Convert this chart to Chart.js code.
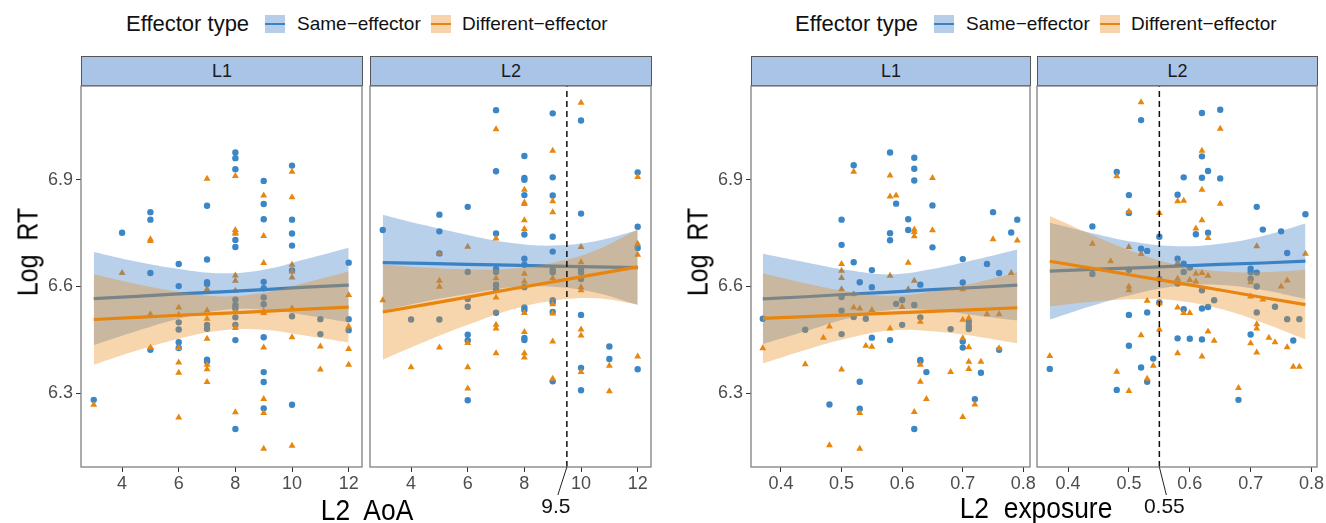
<!DOCTYPE html>
<html>
<head>
<meta charset="utf-8">
<script src="https://cdn.jsdelivr.net/npm/chart.js@4.4.1/dist/chart.umd.min.js"></script>
<style>
body { margin: 0; background: #fff; width: 1326px; height: 523px; overflow: hidden; position: relative;
       font-family: "Liberation Sans", Arial, sans-serif; }
canvas { position: absolute; }
.strip { position: absolute; top: 56px; height: 30px; background: #a9c4e6; border: 1px solid #555;
         box-sizing: border-box; text-align: center; line-height: 28px; font-size: 18px; color: #1a1a1a; }
.lg { position: absolute; top: 10px; height: 28px; line-height: 28px; white-space: pre; color: #111; }
.lg-title { font-size: 22px; }
.lg-lab { font-size: 19px; }
.key { position: absolute; top: 15px; width: 20px; height: 18px; }
.key i { position: absolute; left: 0; right: 0; top: 8px; height: 2px; }
.ytitle { position: absolute; font-size: 29px; white-space: pre; color: #000;
          transform: translate(-50%, -50%) rotate(-90deg) scaleX(0.86); }
.xtitle { position: absolute; font-size: 30px; white-space: pre; color: #000;
          transform: translate(-50%, -50%) scaleX(0.88); }
</style>
</head>
<body>

<!-- legends -->
<div class="lg lg-title" style="left:126px">Effector type</div>
<div class="key" style="left:265px;background:#b6cee9"><i style="background:#3b82c4"></i></div>
<div class="lg lg-lab" style="left:297px">Same−effector</div>
<div class="key" style="left:431px;background:#f6d3ab"><i style="background:#e8850e"></i></div>
<div class="lg lg-lab" style="left:462px">Different−effector</div>

<div class="lg lg-title" style="left:795px">Effector type</div>
<div class="key" style="left:934px;background:#b6cee9"><i style="background:#3b82c4"></i></div>
<div class="lg lg-lab" style="left:966px">Same−effector</div>
<div class="key" style="left:1100px;background:#f6d3ab"><i style="background:#e8850e"></i></div>
<div class="lg lg-lab" style="left:1131px">Different−effector</div>

<!-- facet strips -->
<div class="strip" style="left:81px;width:282px">L1</div>
<div class="strip" style="left:370px;width:282px">L2</div>
<div class="strip" style="left:751px;width:280px">L1</div>
<div class="strip" style="left:1037px;width:281px">L2</div>

<canvas id="aoaL1" width="387" height="443" style="left:0px;top:80px"></canvas>
<canvas id="aoaL2" width="311" height="443" style="left:365px;top:80px"></canvas>
<canvas id="expL1" width="385" height="443" style="left:670px;top:80px"></canvas>
<canvas id="expL2" width="294" height="443" style="left:1032px;top:80px"></canvas>

<div class="ytitle" style="left:28px;top:252px">Log  RT</div>
<div class="ytitle" style="left:698px;top:252px">Log  RT</div>
<div class="xtitle" style="left:367px;top:510px">L2  AoA</div>
<div class="xtitle" style="left:1036px;top:508px">L2  exposure</div>

<script>
// ---- axes ----
const yMin = 6.092, yMax = 7.164;
const yTicks = [6.3, 6.6, 6.9];
const aoaTicks = [4, 6, 8, 10, 12];
const expTicks = [0.4, 0.5, 0.6, 0.7, 0.8];
const aoaCut = 9.5;
const expCut = 0.55;

// ---- L2 AoA, L1 trials ----
const aoaL1SameX = [3, 4, 5, 5, 5, 5, 6, 6, 6, 6, 6, 6, 7, 7, 7, 7, 7, 7, 7, 7,
    8, 8, 8, 8, 8, 8, 8, 8, 8, 8, 8, 8, 9, 9, 9, 9, 9, 9, 9, 9, 9, 9, 9,
    10, 10, 10, 10, 10, 10, 10, 11, 11, 12, 12, 12];
const aoaL1SameY = [6.281, 6.751, 6.809, 6.788, 6.638, 6.422, 6.663, 6.601, 6.499, 6.479, 6.443, 6.427,
    6.827, 6.676, 6.612, 6.607, 6.492, 6.481, 6.394, 6.389,
    6.977, 6.961, 6.930, 6.731, 6.711, 6.563, 6.548, 6.539, 6.513, 6.492, 6.449, 6.199,
    6.897, 6.832, 6.789, 6.613, 6.595, 6.569, 6.550, 6.457, 6.359, 6.331, 6.257,
    6.940, 6.788, 6.749, 6.715, 6.645, 6.516, 6.267, 6.508, 6.466, 6.667, 6.508, 6.477];
const aoaL1DiffX = [3, 4, 5, 5, 5, 5, 6, 6, 6, 6, 6, 6, 7, 7, 7, 7, 7, 7, 7, 7,
    8, 8, 8, 8, 8, 8, 8, 8, 8, 8, 9, 9, 9, 9, 9, 9, 9, 9, 9,
    10, 10, 10, 10, 10, 10, 10, 10, 11, 11, 12, 12, 12, 12];
const aoaL1DiffY = [6.267, 6.638, 6.733, 6.728, 6.522, 6.428, 6.541, 6.520, 6.427, 6.386, 6.357, 6.231,
    6.903, 6.592, 6.532, 6.509, 6.453, 6.380, 6.367, 6.331,
    6.911, 6.759, 6.752, 6.748, 6.631, 6.616, 6.588, 6.528, 6.483, 6.246,
    6.856, 6.742, 6.666, 6.530, 6.525, 6.428, 6.283, 6.244, 6.143,
    6.923, 6.851, 6.661, 6.642, 6.625, 6.539, 6.457, 6.152, 6.431, 6.366, 6.576, 6.487, 6.424, 6.380];

// ---- L2 AoA, L2 trials ----
const aoaL2SameX = [3, 4, 5, 5, 5, 5, 6, 6, 6, 6, 6, 6, 6, 7, 7, 7, 7, 7, 7, 7, 7,
    8, 8, 8, 8, 8, 8, 8, 8, 8, 8, 8, 8, 9, 9, 9, 9, 9, 9, 9, 9, 9, 9, 9,
    10, 10, 10, 10, 10, 10, 10, 10, 11, 11, 12, 12, 12, 12];
const aoaL2SameY = [6.759, 6.507, 6.802, 6.755, 6.693, 6.507, 6.824, 6.641, 6.565, 6.543, 6.464, 6.448, 6.280,
    7.096, 6.924, 6.749, 6.649, 6.641, 6.605, 6.592, 6.526,
    6.967, 6.905, 6.900, 6.857, 6.746, 6.678, 6.661, 6.598, 6.541, 6.534, 6.455, 6.449,
    7.087, 6.907, 6.856, 6.740, 6.698, 6.647, 6.640, 6.561, 6.555, 6.528, 6.333,
    7.067, 6.805, 6.647, 6.639, 6.621, 6.520, 6.371, 6.308, 6.431, 6.396, 6.921, 6.768, 6.708, 6.367];
const aoaL2DiffX = [3, 4, 5, 5, 5, 5, 6, 6, 6, 6, 7, 7, 7, 7, 7, 7, 7,
    8, 8, 8, 8, 8, 8, 8, 8, 8, 8, 8, 9, 9, 9, 9, 9, 9, 9, 9,
    10, 10, 10, 10, 10, 10, 10, 10, 11, 11, 12, 12, 12, 12];
const aoaL2DiffY = [6.561, 6.373, 6.693, 6.616, 6.599, 6.428, 6.712, 6.441, 6.373, 6.313,
    7.042, 6.735, 6.623, 6.569, 6.492, 6.482, 6.412,
    6.872, 6.836, 6.832, 6.786, 6.762, 6.636, 6.614, 6.525, 6.472, 6.412, 6.400,
    6.982, 6.840, 6.809, 6.623, 6.550, 6.524, 6.445, 6.340,
    7.117, 6.711, 6.668, 6.598, 6.589, 6.479, 6.462, 6.359, 6.377, 6.305, 6.908, 6.720, 6.689, 6.403];

// ---- L2 exposure, L1 trials ----
const expL1SameX = [0.37, 0.44, 0.48, 0.50, 0.50, 0.50, 0.50, 0.50, 0.52, 0.52, 0.52, 0.53, 0.53, 0.53,
    0.54, 0.55, 0.55, 0.55, 0.58, 0.58, 0.58, 0.58, 0.59, 0.59, 0.60, 0.60, 0.61, 0.61,
    0.62, 0.62, 0.62, 0.62, 0.62, 0.63, 0.63, 0.63, 0.63, 0.64, 0.65, 0.65, 0.68,
    0.70, 0.70, 0.70, 0.70, 0.71, 0.71, 0.71, 0.72, 0.73, 0.74, 0.75, 0.76, 0.76, 0.78, 0.79];
const expL1SameY = [6.509, 6.478, 6.268, 6.788, 6.717, 6.570, 6.532, 6.466, 6.941, 6.668, 6.514, 6.612, 6.332, 6.256,
    6.509, 6.646, 6.598, 6.456, 6.977, 6.750, 6.730, 6.449, 6.833, 6.551, 6.562, 6.492, 6.789, 6.759,
    6.962, 6.931, 6.898, 6.548, 6.199, 6.605, 6.513, 6.393, 6.390, 6.359, 6.828, 6.710, 6.480,
    6.677, 6.611, 6.445, 6.428, 6.501, 6.489, 6.480, 6.283, 6.357, 6.663, 6.809, 6.638, 6.422, 6.752, 6.788];
const expL1DiffX = [0.37, 0.44, 0.47, 0.48, 0.48, 0.50, 0.50, 0.50, 0.50, 0.50, 0.52, 0.52, 0.52,
    0.53, 0.53, 0.53, 0.54, 0.55, 0.55, 0.58, 0.58, 0.58, 0.58, 0.59, 0.60, 0.61, 0.61,
    0.62, 0.62, 0.62, 0.62, 0.62, 0.63, 0.63, 0.63, 0.64, 0.65, 0.65, 0.68,
    0.70, 0.70, 0.70, 0.70, 0.71, 0.71, 0.71, 0.71, 0.72, 0.73, 0.74, 0.75, 0.76, 0.76, 0.78, 0.79];
const expL1DiffY = [6.426, 6.381, 6.456, 6.487, 6.153, 6.663, 6.644, 6.624, 6.592, 6.366, 6.923, 6.578, 6.541,
    6.538, 6.244, 6.143, 6.433, 6.534, 6.430, 6.912, 6.853, 6.630, 6.482, 6.856, 6.542, 6.667, 6.592,
    6.760, 6.753, 6.741, 6.616, 6.247, 6.501, 6.380, 6.332, 6.283, 6.905, 6.758, 6.359,
    6.592, 6.506, 6.454, 6.233, 6.511, 6.429, 6.388, 6.368, 6.268, 6.388, 6.522, 6.733, 6.522, 6.426, 6.638, 6.729];

// ---- L2 exposure, L2 trials ----
const expL2SameX = [0.37, 0.44, 0.44, 0.48, 0.48, 0.50, 0.50, 0.50, 0.50, 0.50, 0.52, 0.52, 0.52,
    0.53, 0.53, 0.53, 0.54, 0.55, 0.55, 0.55, 0.58, 0.58, 0.58, 0.58, 0.59, 0.59, 0.59, 0.59,
    0.60, 0.60, 0.61, 0.62, 0.62, 0.62, 0.62, 0.62, 0.62, 0.63, 0.63, 0.63, 0.64, 0.65, 0.65, 0.68,
    0.70, 0.70, 0.70, 0.70, 0.71, 0.71, 0.71, 0.71, 0.72, 0.74, 0.75, 0.76, 0.76, 0.77, 0.78, 0.79];
const expL2SameY = [6.368, 6.769, 6.635, 6.922, 6.309, 6.857, 6.807, 6.647, 6.520, 6.433, 7.068, 6.706, 6.372,
    6.700, 6.527, 6.332, 6.397, 6.740, 6.621, 6.555, 6.858, 6.678, 6.608, 6.454, 6.907, 6.664, 6.641, 6.536,
    6.653, 6.453, 6.747, 7.088, 6.966, 6.906, 6.589, 6.538, 6.451, 6.925, 6.751, 6.542, 6.561, 7.097, 6.904, 6.281,
    6.650, 6.640, 6.622, 6.465, 6.824, 6.639, 6.600, 6.527, 6.760, 6.543, 6.755, 6.694, 6.508, 6.448, 6.508, 6.803];
const expL2DiffX = [0.37, 0.44, 0.47, 0.48, 0.48, 0.50, 0.50, 0.50, 0.50, 0.50, 0.52, 0.52, 0.52,
    0.53, 0.53, 0.54, 0.55, 0.55, 0.55, 0.58, 0.58, 0.58, 0.58, 0.58, 0.59, 0.59, 0.60, 0.60,
    0.61, 0.61, 0.61, 0.62, 0.62, 0.62, 0.62, 0.62, 0.63, 0.63, 0.63, 0.64, 0.65, 0.65, 0.68,
    0.70, 0.70, 0.70, 0.71, 0.71, 0.71, 0.71, 0.72, 0.73, 0.74, 0.75, 0.76, 0.76, 0.77, 0.78, 0.79];
const expL2DiffY = [6.404, 6.720, 6.671, 6.910, 6.360, 6.811, 6.711, 6.600, 6.589, 6.306, 7.118, 6.691, 6.463,
    6.560, 6.340, 6.377, 6.807, 6.553, 6.479, 6.840, 6.666, 6.622, 6.541, 6.412, 6.841, 6.525, 6.618, 6.525,
    6.763, 6.636, 6.614, 6.982, 6.872, 6.786, 6.638, 6.403, 6.736, 6.630, 6.473, 6.447, 7.044, 6.833, 6.314,
    6.612, 6.572, 6.440, 6.713, 6.494, 6.482, 6.414, 6.563, 6.456, 6.443, 6.600, 6.617, 6.429, 6.374, 6.374, 6.692];

// ---- linear fits with 95% bands ----
const aoaBandX = [3, 4.5, 6, 7.5, 9, 10.5, 12];
const aoaL1SameFit = [6.566, 6.572, 6.579, 6.585, 6.591, 6.598, 6.604];
const aoaL1SameHi  = [6.697, 6.670, 6.649, 6.637, 6.647, 6.677, 6.709];
const aoaL1SameLo  = [6.435, 6.474, 6.509, 6.533, 6.535, 6.519, 6.499];
const aoaL1DiffFit = [6.507, 6.513, 6.519, 6.524, 6.530, 6.536, 6.542];
const aoaL1DiffHi  = [6.634, 6.607, 6.585, 6.572, 6.582, 6.611, 6.642];
const aoaL1DiffLo  = [6.380, 6.419, 6.453, 6.476, 6.478, 6.461, 6.442];

const aoaL2SameFit = [6.667, 6.665, 6.662, 6.660, 6.657, 6.655, 6.653];
const aoaL2SameHi  = [6.802, 6.772, 6.745, 6.723, 6.715, 6.727, 6.758];
const aoaL2SameLo  = [6.532, 6.558, 6.579, 6.597, 6.599, 6.583, 6.548];
const aoaL2DiffFit = [6.528, 6.549, 6.570, 6.592, 6.613, 6.634, 6.655];
const aoaL2DiffHi  = [6.662, 6.653, 6.648, 6.650, 6.666, 6.701, 6.760];
const aoaL2DiffLo  = [6.394, 6.445, 6.492, 6.534, 6.560, 6.567, 6.550];

const expBandX = [0.37, 0.44, 0.51, 0.58, 0.65, 0.72, 0.79];
const expL1SameFit = [6.565, 6.571, 6.578, 6.584, 6.591, 6.597, 6.604];
const expL1SameHi  = [6.692, 6.668, 6.646, 6.634, 6.649, 6.675, 6.704];
const expL1SameLo  = [6.438, 6.474, 6.510, 6.534, 6.533, 6.519, 6.504];
const expL1DiffFit = [6.510, 6.515, 6.520, 6.525, 6.530, 6.535, 6.540];
const expL1DiffHi  = [6.637, 6.609, 6.586, 6.574, 6.586, 6.610, 6.640];
const expL1DiffLo  = [6.383, 6.421, 6.454, 6.476, 6.474, 6.460, 6.440];

const expL2SameFit = [6.643, 6.648, 6.652, 6.657, 6.662, 6.666, 6.671];
const expL2SameHi  = [6.779, 6.750, 6.725, 6.713, 6.720, 6.742, 6.777];
const expL2SameLo  = [6.507, 6.546, 6.579, 6.601, 6.604, 6.590, 6.565];
const expL2DiffFit = [6.671, 6.651, 6.630, 6.610, 6.590, 6.569, 6.549];
const expL2DiffHi  = [6.798, 6.745, 6.696, 6.660, 6.643, 6.640, 6.647];
const expL2DiffLo  = [6.544, 6.557, 6.564, 6.560, 6.537, 6.498, 6.451];

// ---- style ----
const BLUE = '#3b86c6';
const ORANGE = '#e8870e';
const BLUE_LINE = '#3b82c4';
const ORANGE_LINE = '#e8850e';
const BLUE_BAND = 'rgba(70, 132, 200, 0.38)';
const ORANGE_BAND = 'rgba(234, 138, 28, 0.36)';
const FONT = '"Liberation Sans", Arial, sans-serif';

function pts(xs, ys) {
    return xs.map((x, i) => ({ x: x, y: ys[i] }));
}

// panel border plus the cut-off label under the dashed line
const panelFrame = {
    id: 'panelFrame',
    afterDraw(chart, args, opts) {
        const ctx = chart.ctx, a = chart.chartArea;
        ctx.save();
        ctx.strokeStyle = '#808080';
        ctx.lineWidth = 1.3;
        ctx.strokeRect(a.left, a.top, a.right - a.left, a.bottom - a.top);
        if (opts.cut != null) {
            const x = chart.scales.x.getPixelForValue(opts.cut);
            ctx.strokeStyle = '#222';
            ctx.lineWidth = 1;
            ctx.beginPath();
            ctx.moveTo(x, a.bottom);
            ctx.lineTo(x + opts.dx, a.bottom + 28);
            ctx.stroke();
            ctx.fillStyle = '#111';
            ctx.font = '21px ' + FONT;
            ctx.textAlign = 'center';
            ctx.textBaseline = 'middle';
            ctx.fillText(String(opts.cut), x + opts.tx, a.bottom + 40);
        }
        ctx.restore();
    }
};

function makeFacet(id, f) {
    const datasets = [
        { data: pts(f.sameX, f.sameY), showLine: false, pointStyle: 'circle', pointRadius: 3.2,
          pointBackgroundColor: BLUE, pointBorderWidth: 0, order: 7 },
        { data: pts(f.diffX, f.diffY), showLine: false, pointStyle: 'triangle', pointRadius: 4,
          pointBackgroundColor: ORANGE, pointBorderWidth: 0, order: 6 },
        { data: pts(f.bandX, f.sameLo), borderWidth: 0, pointRadius: 0, fill: false, tension: 0.4, order: 5 },
        { data: pts(f.bandX, f.sameHi), borderWidth: 0, pointRadius: 0, fill: '-1', tension: 0.4,
          backgroundColor: BLUE_BAND, order: 5 },
        { data: pts(f.bandX, f.sameFit), borderColor: BLUE_LINE, borderWidth: 3.2, pointRadius: 0, order: 4 },
        { data: pts(f.bandX, f.diffLo), borderWidth: 0, pointRadius: 0, fill: false, tension: 0.4, order: 3 },
        { data: pts(f.bandX, f.diffHi), borderWidth: 0, pointRadius: 0, fill: '-1', tension: 0.4,
          backgroundColor: ORANGE_BAND, order: 3 },
        { data: pts(f.bandX, f.diffFit), borderColor: ORANGE_LINE, borderWidth: 3.2, pointRadius: 0, order: 2 }
    ];
    if (f.cut != null) {
        datasets.push({ data: [{ x: f.cut, y: yMin }, { x: f.cut, y: yMax }], borderColor: '#111',
                        borderWidth: 1.5, borderDash: [6, 4], pointRadius: 0, order: 1 });
    }

    return new Chart(document.getElementById(id), {
        type: 'line',
        data: { datasets: datasets },
        plugins: [panelFrame],
        options: {
            responsive: false,
            animation: false,
            events: [],
            layout: { padding: { left: f.padLeft, top: 6, right: f.padRight, bottom: 0 } },
            plugins: {
                legend: { display: false },
                tooltip: { enabled: false },
                panelFrame: { cut: f.cut, dx: f.dx, tx: f.tx }
            },
            scales: {
                x: {
                    type: 'linear', min: f.xMin, max: f.xMax,
                    afterBuildTicks: s => { s.ticks = f.xTicks.map(v => ({ value: v })); },
                    afterFit: s => { s.height = 56; s.paddingLeft = 0; s.paddingRight = 0; },
                    ticks: { color: '#4d4d4d', font: { family: FONT, size: 18 }, padding: 1,
                             maxRotation: 0, autoSkip: false, callback: f.fmt },
                    grid: { drawOnChartArea: false, drawTicks: true, tickLength: 5, color: '#333' },
                    border: { display: false }
                },
                y: {
                    type: 'linear', min: yMin, max: yMax, display: f.showY,
                    afterBuildTicks: s => { s.ticks = yTicks.map(v => ({ value: v })); },
                    afterFit: s => { s.width = f.showY ? 81 : 0; s.paddingTop = 0; s.paddingBottom = 0; },
                    ticks: { color: '#4d4d4d', font: { family: FONT, size: 18 }, padding: 3,
                             callback: v => v.toFixed(1) },
                    grid: { drawOnChartArea: false, drawTicks: true, tickLength: 5, color: '#333' },
                    border: { display: false }
                }
            }
        }
    });
}

const aoaFmt = v => String(v);
const expFmt = v => v.toFixed(1);

makeFacet('aoaL1', { xMin: 2.55, xMax: 12.47, xTicks: aoaTicks, fmt: aoaFmt, showY: true, padLeft: 0, padRight: 25,
    sameX: aoaL1SameX, sameY: aoaL1SameY, diffX: aoaL1DiffX, diffY: aoaL1DiffY, bandX: aoaBandX,
    sameFit: aoaL1SameFit, sameHi: aoaL1SameHi, sameLo: aoaL1SameLo,
    diffFit: aoaL1DiffFit, diffHi: aoaL1DiffHi, diffLo: aoaL1DiffLo });

makeFacet('aoaL2', { xMin: 2.55, xMax: 12.47, xTicks: aoaTicks, fmt: aoaFmt, showY: false, padLeft: 5, padRight: 25,
    sameX: aoaL2SameX, sameY: aoaL2SameY, diffX: aoaL2DiffX, diffY: aoaL2DiffY, bandX: aoaBandX,
    sameFit: aoaL2SameFit, sameHi: aoaL2SameHi, sameLo: aoaL2SameLo,
    diffFit: aoaL2DiffFit, diffHi: aoaL2DiffHi, diffLo: aoaL2DiffLo,
    cut: aoaCut, dx: -9, tx: -11 });

makeFacet('expL1', { xMin: 0.3505, xMax: 0.811, xTicks: expTicks, fmt: expFmt, showY: true, padLeft: 0, padRight: 25,
    sameX: expL1SameX, sameY: expL1SameY, diffX: expL1DiffX, diffY: expL1DiffY, bandX: expBandX,
    sameFit: expL1SameFit, sameHi: expL1SameHi, sameLo: expL1SameLo,
    diffFit: expL1DiffFit, diffHi: expL1DiffHi, diffLo: expL1DiffLo });

makeFacet('expL2', { xMin: 0.349, xMax: 0.809, xTicks: expTicks, fmt: expFmt, showY: false, padLeft: 5, padRight: 9,
    sameX: expL2SameX, sameY: expL2SameY, diffX: expL2DiffX, diffY: expL2DiffY, bandX: expBandX,
    sameFit: expL2SameFit, sameHi: expL2SameHi, sameLo: expL2SameLo,
    diffFit: expL2DiffFit, diffHi: expL2DiffHi, diffLo: expL2DiffLo,
    cut: expCut, dx: 7, tx: 5 });
</script>
</body>
</html>
